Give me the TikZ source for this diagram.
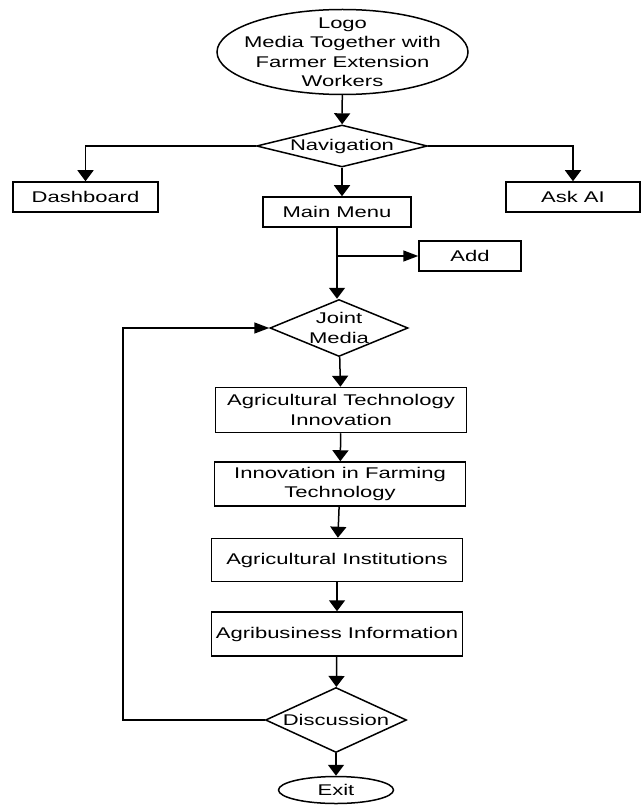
\documentclass[tikz,border=0pt]{standalone}
\usepackage{fontspec}
\setmainfont{Liberation Sans}[FakeStretch=1.42]
\usepackage{tikz}
\usetikzlibrary{arrows.meta,shapes.geometric,positioning}

\begin{document}
\begin{tikzpicture}[x=1pt, y=-1pt,
  font=\fontsize{15.5}{19.5}\selectfont,
  box/.style={draw, rectangle, line width=1.5pt, inner sep=0pt, align=center},
  decision/.style={draw, diamond, line width=1.5pt, inner sep=0pt, align=center},
  oval/.style={draw, ellipse, line width=1.5pt, inner sep=0pt, align=center},
  flow/.style={line width=1.5pt, -{Triangle[length=11pt,width=16pt]}},
  hflow/.style={line width=1.5pt, -{Triangle[length=15pt,width=11pt]}}]
  \useasboundingbox (0,0) rectangle (641,805);

  % top: logo and navigation
  \node[oval, minimum width=251pt, minimum height=85pt] (logo) at (342.5,52) {};
  \node[align=center] (logotext) at (logo.center) {Logo\\Media Together with\\Farmer Extension\\Workers};
  \node[decision, aspect=4.07, minimum width=171pt, minimum height=42pt] (nav) at (342,146) {Navigation};
  \node[box, minimum width=145pt, minimum height=30pt] (dash) at (85.5,197) {Dashboard};
  \node[box, minimum width=134pt, minimum height=30pt] (askai) at (573,197) {Ask AI};
  \node[box, minimum width=148pt, minimum height=30pt] (menu) at (337,212) {Main Menu};
  \node[box, minimum width=102pt, minimum height=30pt] (add) at (470,256) {Add};

  % middle: joint media chain
  \node[decision, aspect=2.42, minimum width=138pt, minimum height=57pt] (joint) at (339,328) {Joint\\Media};
  \node[box, minimum width=251pt, minimum height=45pt] (agtech) at (341,410) {Agricultural Technology\\Innovation};
  \node[box, minimum width=251pt, minimum height=44pt] (farmtech) at (340,484) {Innovation in Farming\\Technology};
  \node[box, minimum width=251pt, minimum height=43pt] (agrinst) at (337,560) {Agricultural Institutions};
  \node[box, minimum width=251pt, minimum height=44pt] (agribiz) at (337,634) {Agribusiness Information};

  % bottom: discussion and exit
  \node[decision, aspect=2.17, minimum width=141pt, minimum height=65pt] (disc) at (336,720) {Discussion};
  \node[oval, minimum width=115pt, minimum height=27pt] (exit) at (336,790) {Exit};

  % connectors
  \draw[flow] (logo) -- (nav);
  \draw[flow] (nav.west) -| (dash.north);
  \draw[flow] (nav.east) -| (askai.north);
  \draw[flow] (nav.south) -- (nav.south |- menu.north);
  \draw[flow] (menu.south) -- (menu.south |- joint.north);
  \coordinate (branch) at (menu.south |- add.west);
  \draw[hflow] (branch) -- (add.west);
  \draw[flow] (joint) -- (agtech);
  \draw[flow] (agtech) -- (farmtech);
  \draw[flow] (farmtech) -- (agrinst);
  \draw[flow] (agrinst) -- (agribiz);
  \draw[flow] (agribiz) -- (disc);
  \draw[flow] (disc) -- (exit);
  \coordinate (loop) at (123,720);
  \draw[hflow] (disc.west) -- (loop) |- (joint.west);
\end{tikzpicture}
\end{document}
